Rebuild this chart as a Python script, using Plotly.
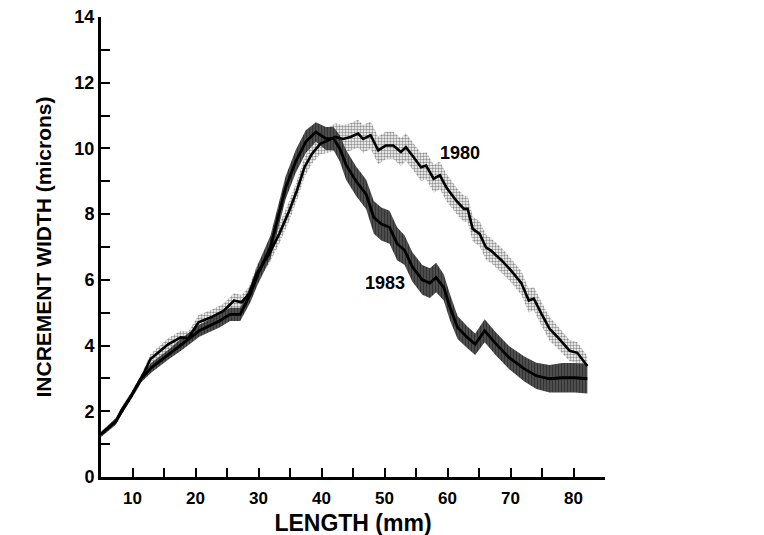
import plotly.graph_objects as go

# 1983 sample: length (mm), mean increment width (microns), half band width
x83 = [5.0, 7.4, 8.2, 9.8, 11.4, 13.0, 15.8, 17.8, 20.6, 23.8, 25.5, 27.1, 28.7, 29.9,
       31.9, 33.1, 34.3, 35.9, 37.5, 39.1, 40.7, 41.9, 42.9, 43.9, 45.5, 47.1, 48.3,
       49.5, 50.8, 52.0, 53.2, 54.4, 56.0, 57.2, 58.2, 59.4, 60.4, 61.6, 63.2, 64.4,
       65.9, 67.7, 69.8, 72.2, 74.1, 76.2, 78.2, 80.2, 82.2]
y83 = [1.3, 1.7, 2.0, 2.47, 3.0, 3.33, 3.74, 4.04, 4.45, 4.75, 4.95, 4.95, 5.56, 6.17,
       7.0, 7.9, 8.8, 9.6, 10.2, 10.5, 10.3, 10.3, 10.0, 9.5, 9.0, 8.6, 7.9,
       7.7, 7.6, 7.1, 6.9, 6.4, 6.0, 5.9, 6.07, 5.77, 5.16, 4.55, 4.24, 4.04,
       4.45, 4.05, 3.63, 3.29, 3.08, 2.99, 3.02, 3.02, 2.99]
hw83 = [0.08, 0.1, 0.1, 0.1, 0.12, 0.15, 0.15, 0.18, 0.18, 0.2, 0.2, 0.2, 0.25, 0.3,
        0.35, 0.35, 0.35, 0.35, 0.35, 0.3, 0.35, 0.35, 0.4, 0.45, 0.45, 0.45, 0.5,
        0.5, 0.5, 0.5, 0.45, 0.45, 0.45, 0.45, 0.45, 0.4, 0.4, 0.35, 0.33, 0.33,
        0.35, 0.35, 0.35, 0.38, 0.4, 0.42, 0.45, 0.45, 0.45]

# 1980 sample
x80 = [5.0, 7.4, 9.8, 11.4, 12.85, 15.66, 17.67, 18.88, 20.48, 22.49, 24.5, 26.1, 27.3,
       28.5, 29.7, 31.7, 33.3, 34.9, 36.1, 37.3, 38.5, 39.8, 41.0, 42.2, 43.4, 44.6,
       45.8, 46.6, 47.8, 49.0, 50.2, 51.4, 52.6, 53.4, 54.6, 55.8, 56.6, 57.8, 58.8,
       59.8, 61.4, 62.6, 63.2, 64.0, 65.1, 66.1, 66.9, 68.6, 70.1, 71.7, 72.9, 73.7,
       74.9, 76.2, 77.7, 79.4, 80.6, 82.2]
y80 = [1.3, 1.7, 2.47, 3.0, 3.59, 4.04, 4.25, 4.23, 4.71, 4.86, 5.06, 5.37, 5.32,
       5.57, 6.18, 6.79, 7.4, 8.11, 8.72, 9.43, 9.84, 10.14, 10.24, 10.35, 10.29, 10.35,
       10.45, 10.29, 10.4, 9.94, 10.09, 10.09, 9.89, 10.04, 9.74, 9.43, 9.48, 9.08, 9.18,
       8.82, 8.41, 8.16, 8.16, 7.55, 7.4, 6.99, 6.89, 6.59, 6.28, 5.91, 5.37, 5.43,
       4.97, 4.51, 4.21, 3.84, 3.78, 3.38]
hw80 = [0.05, 0.08, 0.1, 0.12, 0.15, 0.18, 0.2, 0.2, 0.22, 0.22, 0.22, 0.22, 0.22,
        0.22, 0.25, 0.3, 0.3, 0.3, 0.3, 0.3, 0.3, 0.32, 0.38, 0.42, 0.42, 0.42,
        0.42, 0.42, 0.42, 0.42, 0.42, 0.42, 0.42, 0.42, 0.42, 0.42, 0.42, 0.42, 0.42,
        0.42, 0.4, 0.4, 0.4, 0.38, 0.38, 0.38, 0.38, 0.38, 0.36, 0.36, 0.36, 0.36,
        0.36, 0.36, 0.34, 0.32, 0.32, 0.3]

xticks = [10, 15, 20, 25, 30, 35, 40, 45, 50, 55, 60, 65, 70, 75, 80, 85]
xticktext = ["10", "", "20", "", "30", "", "40", "", "50", "", "60", "", "70", "", "80", ""]
yticks = list(range(0, 15))
yticktext = [str(v) if v % 2 == 0 else "" for v in yticks]

FONT = "Liberation Sans, Arial, sans-serif"


def band(x, y, hw):
    up = [a + b for a, b in zip(y, hw)]
    lo = [a - b for a, b in zip(y, hw)]
    return x + x[::-1], up + lo[::-1]


fig = go.Figure()

bx, by = band(x80, y80, hw80)
fig.add_trace(go.Scatter(x=bx, y=by, fill="toself", mode="none", hoverinfo="skip",
                         fillcolor="rgba(0,0,0,0)",
                         fillpattern=dict(shape=".", fgcolor="#222222", bgcolor="rgba(255,255,255,0)",
                                          size=3, solidity=0.5)))
bx, by = band(x83, y83, hw83)
fig.add_trace(go.Scatter(x=bx, y=by, fill="toself", mode="none", hoverinfo="skip",
                         fillcolor="rgba(0,0,0,0)",
                         fillpattern=dict(shape="|", fgcolor="#0a0a0a", bgcolor="#5e5e5e",
                                          size=3, solidity=0.6)))

fig.add_trace(go.Scatter(x=x80, y=y80, mode="lines", line=dict(color="black", width=2.6)))
fig.add_trace(go.Scatter(x=x83, y=y83, mode="lines", line=dict(color="black", width=2.8)))

fig.add_annotation(x=62.0, y=9.85, text="1980", showarrow=False,
                   font=dict(family=FONT, size=18, color="black", weight="bold"))
fig.add_annotation(x=50.0, y=5.9, text="1983", showarrow=False,
                   font=dict(family=FONT, size=18, color="black", weight="bold"))

fig.update_layout(
    width=764, height=535, autosize=False,
    plot_bgcolor="white", paper_bgcolor="white",
    showlegend=False,
    margin=dict(l=93, r=167, t=9, b=66),
    font=dict(family=FONT, color="black"),
)
fig.update_xaxes(range=[5, 85], tickmode="array", tickvals=xticks, ticktext=xticktext,
                 ticks="inside", ticklen=9, tickwidth=2, tickcolor="black",
                 showline=True, linewidth=3, linecolor="black", showgrid=False, zeroline=False,
                 automargin=False,
                 tickfont=dict(family=FONT, size=17, weight="bold"),
                 ticklabelstandoff=4,
                 title=dict(text="LENGTH (mm)", font=dict(family=FONT, size=23, weight="bold"),
                            standoff=8))
fig.update_yaxes(range=[0, 14], tickmode="array", tickvals=yticks, ticktext=yticktext,
                 ticks="inside", ticklen=9, tickwidth=2, tickcolor="black",
                 showline=True, linewidth=3, linecolor="black", showgrid=False, zeroline=False,
                 automargin=False, ticklabeloverflow="allow",
                 tickfont=dict(family=FONT, size=18, weight="bold"),
                 title=dict(text="INCREMENT WIDTH (microns)",
                            font=dict(family=FONT, size=21, weight="bold"), standoff=18))

fig.write_html("out.html")
